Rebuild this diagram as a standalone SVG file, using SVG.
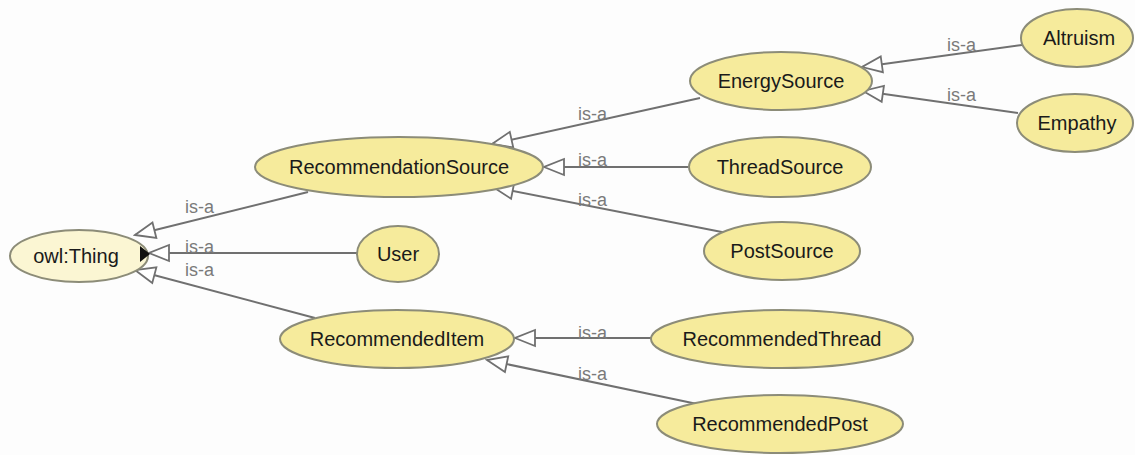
<svg xmlns="http://www.w3.org/2000/svg" width="1135" height="455" viewBox="0 0 1135 455">
<style>
.node ellipse{fill:#f6eb9c;stroke:#8c8c78;stroke-width:2}
#owlThing ellipse{fill:#fbf6d3}
.node text{font-family:"Liberation Sans",Arial,sans-serif;font-size:20px;fill:#1a1a1a;text-anchor:middle}
.edge{stroke:#707070;stroke-width:2;fill:none;marker-end:url(#tri)}
.lbl{font-family:"Liberation Sans",Arial,sans-serif;font-size:18px;fill:#7a7a7a}
</style>
<defs>
<marker id="tri" markerUnits="userSpaceOnUse" markerWidth="24" markerHeight="20" viewBox="-1 -10 23 20" refX="20" refY="0" orient="auto">
<path d="M20,0 L0,-8 L0,8 Z" fill="#ffffff" stroke="#707070" stroke-width="1.8"/>
</marker>
</defs>
<rect width="1135" height="455" fill="#fdfdfd"/>
<g id="connectors">
<line class="edge" x1="308" y1="192" x2="135" y2="235"/>
<line class="edge" x1="357" y1="253" x2="149" y2="253"/>
<line class="edge" x1="315" y1="318" x2="135" y2="270"/>
<line class="edge" x1="700" y1="98" x2="492" y2="144"/>
<line class="edge" x1="688" y1="167" x2="544" y2="167"/>
<line class="edge" x1="732" y1="234" x2="493" y2="187"/>
<line class="edge" x1="1022" y1="45" x2="862" y2="67"/>
<line class="edge" x1="1018" y1="113" x2="863" y2="91"/>
<line class="edge" x1="651" y1="338" x2="515" y2="338"/>
<line class="edge" x1="702" y1="405" x2="487" y2="360"/>
<text class="lbl" x="185" y="213">is-a</text>
<text class="lbl" x="185" y="253">is-a</text>
<text class="lbl" x="185" y="276">is-a</text>
<text class="lbl" x="578" y="120">is-a</text>
<text class="lbl" x="578" y="166">is-a</text>
<text class="lbl" x="578" y="206">is-a</text>
<text class="lbl" x="947" y="51">is-a</text>
<text class="lbl" x="947" y="101">is-a</text>
<text class="lbl" x="578" y="339">is-a</text>
<text class="lbl" x="578" y="380">is-a</text>
</g>
<g id="owlThing" class="node"><ellipse cx="79" cy="256" rx="69" ry="26"/><text x="76" y="263">owl:Thing</text><path d="M140,246 L150,254 L140,262 Z" fill="#111"/></g>
<g id="RecommendationSource" class="node"><ellipse cx="399" cy="167" rx="144" ry="30"/><text x="399" y="174">RecommendationSource</text></g>
<g id="User" class="node"><ellipse cx="398" cy="254" rx="41" ry="28"/><text x="398" y="261">User</text></g>
<g id="RecommendedItem" class="node"><ellipse cx="397" cy="339" rx="117" ry="29"/><text x="397" y="346">RecommendedItem</text></g>
<g id="EnergySource" class="node"><ellipse cx="781" cy="81" rx="91" ry="29"/><text x="781" y="88">EnergySource</text></g>
<g id="ThreadSource" class="node"><ellipse cx="780" cy="167" rx="91" ry="30"/><text x="780" y="174">ThreadSource</text></g>
<g id="PostSource" class="node"><ellipse cx="782" cy="251" rx="78" ry="29"/><text x="782" y="258">PostSource</text></g>
<g id="Altruism" class="node"><ellipse cx="1077" cy="38" rx="56" ry="29"/><text x="1079" y="45">Altruism</text></g>
<g id="Empathy" class="node"><ellipse cx="1075" cy="123" rx="58" ry="29"/><text x="1077" y="130">Empathy</text></g>
<g id="RecommendedThread" class="node"><ellipse cx="782" cy="339" rx="131" ry="29"/><text x="782" y="346">RecommendedThread</text></g>
<g id="RecommendedPost" class="node"><ellipse cx="780" cy="424" rx="123" ry="29"/><text x="780" y="431">RecommendedPost</text></g>
</svg>
